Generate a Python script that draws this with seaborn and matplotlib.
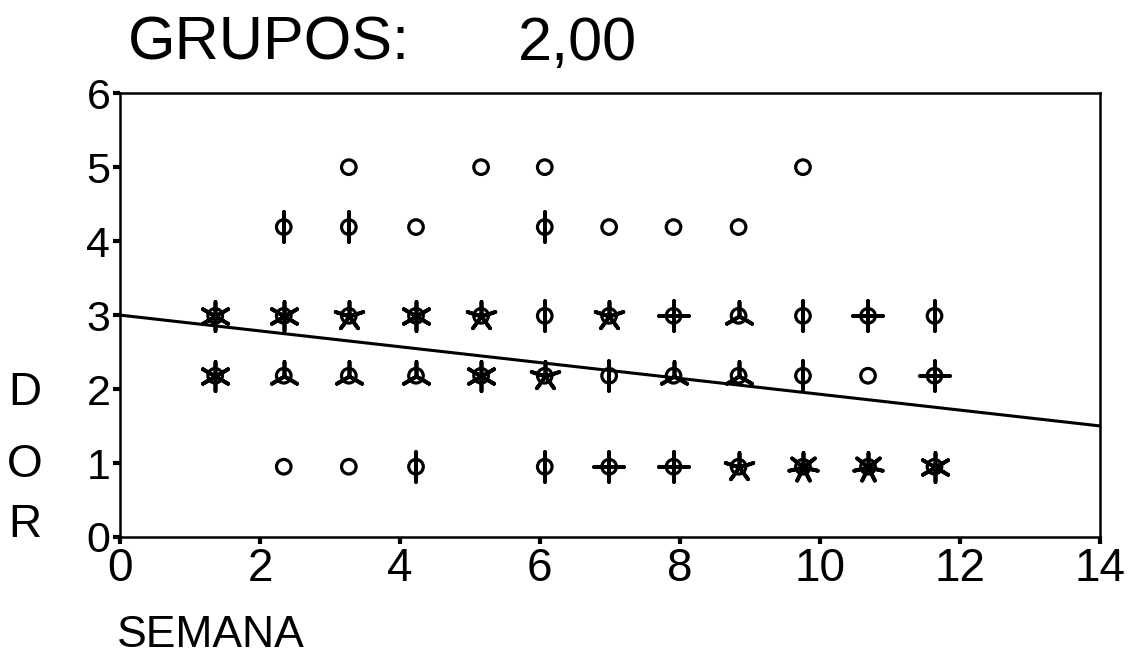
import matplotlib
matplotlib.use("Agg")
import matplotlib.pyplot as plt
import numpy as np
import pandas as pd
import seaborn as sns

# Sunflower plot of DOR vs SEMANA: each cell is drawn as a circle,
# with one petal per observation when a cell holds 2 or more cases.
semana_bins = [1.36, 2.34, 3.27, 4.23, 5.16, 6.07, 6.99, 7.91, 8.84, 9.76, 10.69, 11.64]

row5_y = 5.0
row5_x = [3.27, 5.16, 6.07, 9.76]
row5_n = [1, 1, 1, 1]

row4_y = 4.19
row4_x = [2.34, 3.27, 4.23, 6.07, 6.99, 7.91, 8.84]
row4_n = [2, 2, 1, 2, 1, 1, 1]

row3_y = 2.99
row3_x = semana_bins
row3_n = [6, 6, 5, 6, 5, 2, 5, 4, 3, 2, 4, 2]

row2_y = 2.18
row2_x = semana_bins
row2_n = [6, 3, 3, 3, 6, 5, 2, 3, 3, 2, 1, 4]

row1_y = 0.95
row1_x = [2.34, 3.27, 4.23, 6.07, 6.99, 7.91, 8.84, 9.76, 10.69, 11.64]
row1_n = [1, 1, 2, 2, 4, 4, 5, 7, 7, 6]

# fitted line: DOR = a + b * SEMANA
fit_intercept = 3.0
fit_slope = -0.107

x_ticks = [0, 2, 4, 6, 8, 10, 12, 14]
y_ticks = [0, 1, 2, 3, 4, 5, 6]

rows = []
for y, xs, ns in [(row5_y, row5_x, row5_n), (row4_y, row4_x, row4_n),
                  (row3_y, row3_x, row3_n), (row2_y, row2_x, row2_n),
                  (row1_y, row1_x, row1_n)]:
    for x, n in zip(xs, ns):
        rows.append({"SEMANA": x, "DOR": y, "n": n})
cells = pd.DataFrame(rows)

sns.set_theme(style="white")
plt.rcParams["font.family"] = ["Liberation Sans", "DejaVu Sans"]

fig = plt.figure(figsize=(11.29, 6.61), dpi=100)
ax = fig.add_axes([0.1063, 0.1876, 0.8677, 0.6714])

# centre circles
sns.scatterplot(data=cells, x="SEMANA", y="DOR", ax=ax, marker="o",
                s=110, facecolor="none", edgecolor="black", linewidth=2.3,
                legend=False, zorder=3)

# petals: an asterisk with n arms, first arm pointing up
for n, grp in cells[cells["n"] >= 2].groupby("n"):
    sns.scatterplot(data=grp, x="SEMANA", y="DOR", ax=ax, marker=(int(n), 2, 0),
                    s=440, color="black", linewidth=2.7, legend=False, zorder=4)

xl = np.array([0, 14])
line_df = pd.DataFrame({"SEMANA": xl, "DOR": fit_intercept + fit_slope * xl})
sns.lineplot(data=line_df, x="SEMANA", y="DOR", ax=ax, color="black",
             linewidth=2.2, zorder=2)

ax.set_xlim(0, 14)
ax.set_ylim(0, 6)
ax.set_xticks(x_ticks)
ax.set_yticks(y_ticks)
ax.set_xticklabels([str(t) for t in x_ticks], fontsize=33)
ax.set_yticklabels([str(t) for t in y_ticks], fontsize=31)
ax.tick_params(axis="both", direction="out", length=5, width=3, color="black",
               labelcolor="black", left=True, bottom=True)
ax.tick_params(axis="y", pad=2)
ax.tick_params(axis="x", pad=2)
for sp in ax.spines.values():
    sp.set_color("black")
    sp.set_linewidth(1.8)
ax.set_xlabel("")
ax.set_ylabel("")

fig.text(0.113, 0.89, "GRUPOS:", fontsize=44, color="black", va="bottom")
fig.text(0.459, 0.89, "2,00", fontsize=44, color="black", va="bottom")

for letter, yp in [("D", 0.405), ("O", 0.296), ("R", 0.205)]:
    fig.text(0.022, yp, letter, fontsize=33, color="black", ha="center", va="center")

fig.text(0.104, 0.008, "SEMANA", fontsize=32, color="black", va="bottom")

fig.savefig("out.png", dpi=100, facecolor="white")
